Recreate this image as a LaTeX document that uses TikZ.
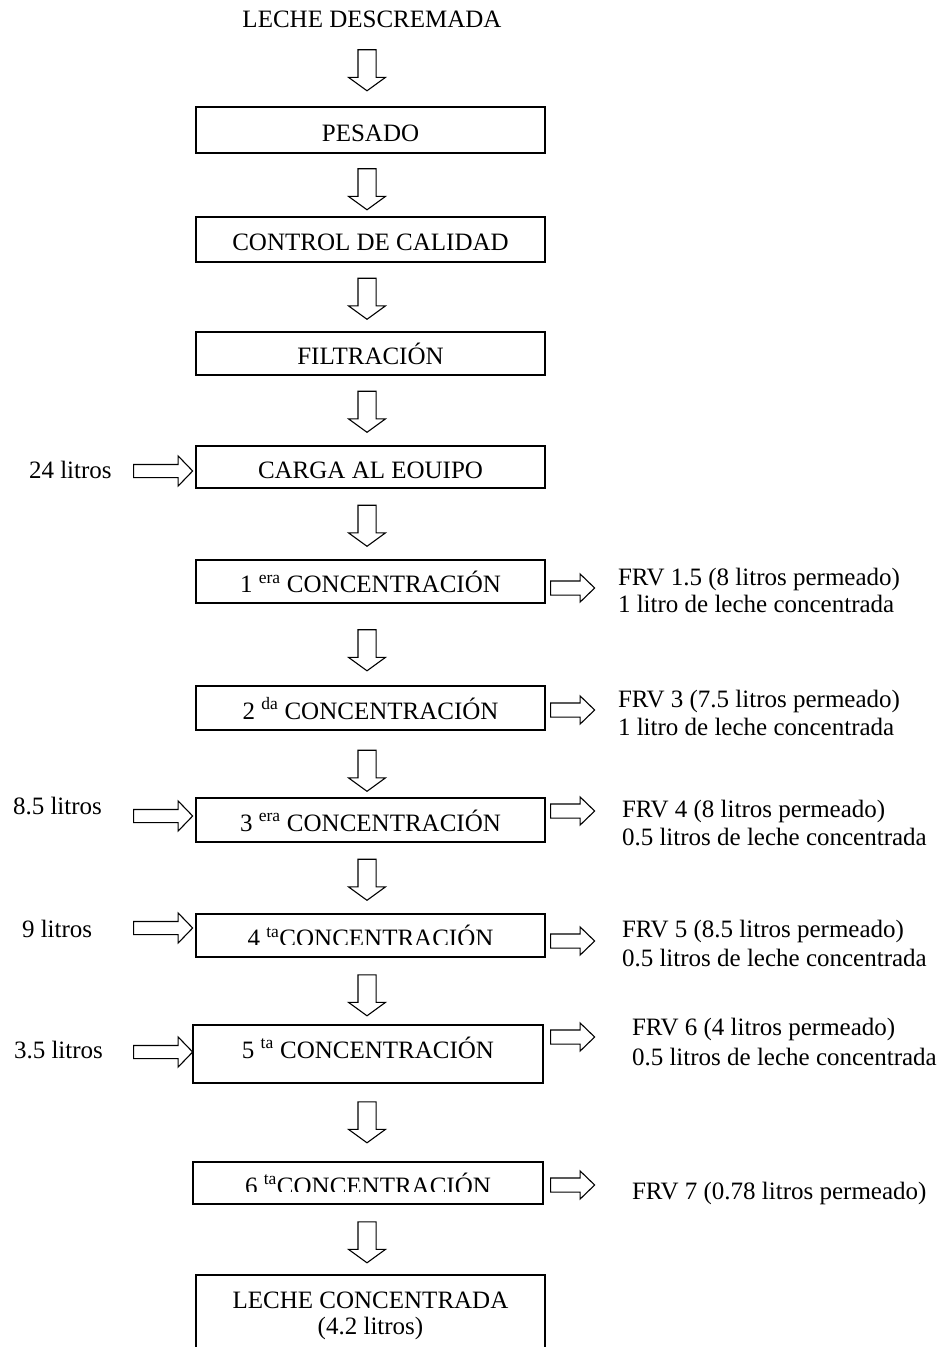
\documentclass[tikz,border=0pt]{standalone}
\usepackage{fontspec}
\setmainfont{Liberation Serif}
\usetikzlibrary{shapes.arrows}
\begin{document}
\begin{tikzpicture}[x=1pt,y=-1pt,
  every node/.style={font=\fontsize{25}{29}\selectfont, inner sep=0pt, outer sep=0pt},
  stagebox/.style={draw, line width=1.3pt, minimum width=349pt, text height=22pt, text depth=0pt},
  note/.style={anchor=base west},
  centred/.style={anchor=base},
  flowarrow/.style={single arrow, draw, line width=1.1pt, single arrow head indent=0pt,
     minimum width=0pt},
  downflow/.style={flowarrow, shape border rotate=270, minimum height=41pt,
     inner xsep=8.5pt, inner ysep=0pt,
     single arrow head extend=9.5pt, single arrow tip angle=108},
  outflow/.style={flowarrow, minimum height=44pt, inner xsep=0pt, inner ysep=6.5pt,
     single arrow head extend=7pt, single arrow tip angle=88},
  inflow/.style={flowarrow, minimum height=59pt, inner xsep=0pt, inner ysep=6pt,
     single arrow head extend=8.5pt, single arrow tip angle=92},
]
\useasboundingbox (0,0) rectangle (949,1347);
\clip (0,0) rectangle (949,1347);

% raw material
\node[centred] (raw) at (372,27) {LECHE DESCREMADA};

% process stages
\node[stagebox, minimum height=46pt] (pesado) at (370.5,130) {PESADO};
\node[stagebox, minimum height=45pt] (control) at (370.5,239.5) {CONTROL DE CALIDAD};
\node[stagebox, minimum height=43pt] (filtr) at (370.5,353.5) {FILTRACIÓN};
\node[stagebox, minimum height=42pt] (carga) at (370.5,467) {CARGA AL EOUIPO};
\node[stagebox, minimum height=43pt] (c1) at (370.5,581.5) {1 \textsuperscript{era} CONCENTRACIÓN};
\node[stagebox, minimum height=44pt] (c2) at (370.5,708) {2 \textsuperscript{da} CONCENTRACIÓN};
\node[stagebox, minimum height=44pt] (c3) at (370.5,820) {3 \textsuperscript{era} CONCENTRACIÓN};
\node[stagebox, minimum height=43pt] (c4) at (370.5,935.5) {};
\node[stagebox, minimum height=58pt, minimum width=350pt, text height=8pt] (c5) at (368,1054) {5 \textsuperscript{ta} CONCENTRACIÓN};
\node[stagebox, minimum height=42pt, minimum width=350pt] (c6) at (368,1183) {};

% labels of the 4th and 6th stages sit low and are cut by their frames
\begin{scope}
  \clip (c4.north west) rectangle ([yshift=13pt]c4.south east);
  \node[centred] (c4t) at (370.5,946.5) {4 \textsuperscript{ta}CONCENTRACIÓN};
\end{scope}
\begin{scope}
  \clip (c6.north west) rectangle ([yshift=12.5pt]c6.south east);
  \node[centred] (c6t) at (368,1194) {6 \textsuperscript{ta}CONCENTRACIÓN};
\end{scope}

% final product, frame open at the bottom
\node[minimum width=349pt, minimum height=90pt, anchor=north] (fin) at (370.5,1275) {};
\draw[line width=1.3pt] (fin.south west) |- (fin.north east) -- (fin.south east);
\node[centred] (fin1) at (370.5,1308) {LECHE CONCENTRADA};
\node[centred] (fin2) at (370.5,1334) {(4.2 litros)};

% main flow
\node[downflow] (d1) at (367,67) {};
\node[downflow] (d2) at (367,186) {};
\node[downflow] (d3) at (367,295.5) {};
\node[downflow] (d4) at (367,408.5) {};
\node[downflow] (d5) at (367,522.5) {};
\node[downflow] (d6) at (367,647) {};
\node[downflow] (d7) at (367,767.5) {};
\node[downflow] (d8) at (367,876.5) {};
\node[downflow] (d9) at (367,992) {};
\node[downflow] (d10) at (367,1119) {};
\node[downflow] (d11) at (367,1239) {};

% feed inputs
\node[inflow] (i1) at (160,471) {};
\node[inflow] (i3) at (160,816) {};
\node[inflow] (i4) at (160,928) {};
\node[inflow] (i5) at (160,1052) {};
\node[note] (in1) at (29,478) {24 litros};
\node[note] (in3) at (13,814) {8.5 litros};
\node[note] (in4) at (22,937) {9 litros};
\node[note] (in5) at (14,1058) {3.5 litros};

% permeate outputs
\node[outflow] (o1) at (569,588) {};
\node[outflow] (o2) at (569,710) {};
\node[outflow] (o3) at (569,811) {};
\node[outflow] (o4) at (569,941) {};
\node[outflow] (o5) at (569,1037) {};
\node[outflow] (o6) at (569,1185) {};

\node[note] (p1a) at (618,585) {FRV 1.5 (8 litros permeado)};
\node[note] (p1b) at (618,612) {1 litro de leche concentrada};
\node[note] (p2a) at (618,707) {FRV 3 (7.5 litros permeado)};
\node[note] (p2b) at (618,735) {1 litro de leche concentrada};
\node[note] (p3a) at (622,817) {FRV 4 (8 litros permeado)};
\node[note] (p3b) at (622,845) {0.5 litros de leche concentrada};
\node[note] (p4a) at (622,937) {FRV 5 (8.5 litros permeado)};
\node[note] (p4b) at (622,966) {0.5 litros de leche concentrada};
\node[note] (p5a) at (632,1035) {FRV 6 (4 litros permeado)};
\node[note] (p5b) at (632,1065) {0.5 litros de leche concentrada};
\node[note] (p6a) at (632,1199) {FRV 7 (0.78 litros permeado)};
\end{tikzpicture}
\end{document}
